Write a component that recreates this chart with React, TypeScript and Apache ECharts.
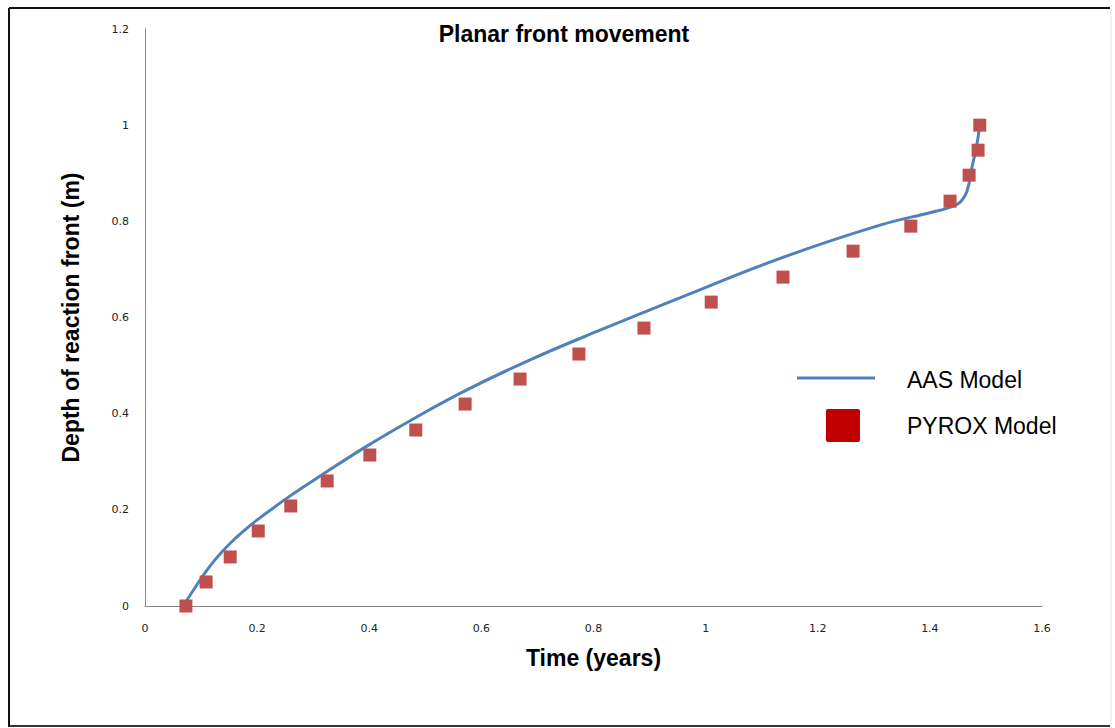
import React, { useEffect, useRef } from "react";
import * as echarts from "echarts";

const aasTime = [0.068, 0.083, 0.107, 0.127, 0.149, 0.174, 0.199, 0.259, 0.324, 0.395, 0.48, 0.568, 0.687, 0.806, 0.954, 1.133, 1.311, 1.40, 1.43, 1.452, 1.466, 1.475, 1.483, 1.489];
const aasDepth = [0, 0.027, 0.069, 0.099, 0.127, 0.154, 0.178, 0.229, 0.279, 0.332, 0.39, 0.446, 0.512, 0.571, 0.641, 0.723, 0.792, 0.818, 0.827, 0.838, 0.862, 0.912, 0.955, 0.998];

const pyroxTime = [0.073, 0.109, 0.152, 0.202, 0.260, 0.325, 0.401, 0.483, 0.571, 0.669, 0.774, 0.890, 1.010, 1.138, 1.263, 1.366, 1.436, 1.470, 1.486, 1.489];
const pyroxDepth = [0, 0.05, 0.102, 0.156, 0.208, 0.260, 0.314, 0.366, 0.420, 0.472, 0.524, 0.578, 0.632, 0.684, 0.738, 0.790, 0.842, 0.896, 0.948, 1.0];

const seriesNames = ["AAS Model", "PYROX Model"];
const chartTitle = "Planar front movement";
const xTitle = "Time (years)";
const yTitle = "Depth of reaction front (m)";

export default function App() {
  const ref = useRef<HTMLDivElement>(null);
  useEffect(() => {
    if (!ref.current) return;
    const chart = echarts.init(ref.current, null, { renderer: "svg" });
    const aas = aasTime.map((t, i) => [t, aasDepth[i]]);
    const pyrox = pyroxTime.map((t, i) => [t, pyroxDepth[i]]);
    const tickFont = { fontFamily: "DejaVu Sans", fontSize: 11, color: "#222" };
    chart.setOption({
      animation: false,
      backgroundColor: "#fff",
      grid: { left: 145, right: 73, top: 29, bottom: 122 },
      xAxis: {
        type: "value",
        min: 0,
        max: 1.6,
        interval: 0.2,
        axisLine: { show: true, lineStyle: { color: "#868686", width: 1 } },
        axisTick: { show: false },
        splitLine: { show: false },
        axisLabel: { ...tickFont, margin: 17, formatter: (v: number) => String(Math.round(v * 10) / 10) },
        name: xTitle,
        nameLocation: "middle",
        nameGap: 40,
        nameTextStyle: { fontFamily: "Liberation Sans", fontWeight: "bold", fontSize: 23, color: "#000" },
      },
      yAxis: {
        type: "value",
        min: 0,
        max: 1.2,
        interval: 0.2,
        axisLine: { show: true, lineStyle: { color: "#868686", width: 1 } },
        axisTick: { show: false },
        splitLine: { show: false },
        axisLabel: { ...tickFont, margin: 16, formatter: (v: number) => String(Math.round(v * 10) / 10) },
        name: yTitle,
        nameLocation: "middle",
        nameGap: 63,
        nameRotate: 90,
        nameTextStyle: { fontFamily: "Liberation Sans", fontWeight: "bold", fontSize: 23, color: "#000" },
      },
      series: [
        {
          name: seriesNames[0],
          type: "line",
          data: aas,
          smooth: 0.4,
          showSymbol: false,
          lineStyle: { color: "#4F81BD", width: 3 },
          z: 2,
        },
        {
          name: seriesNames[1],
          type: "scatter",
          data: pyrox,
          symbol: "rect",
          symbolSize: 13,
          itemStyle: { color: "#C0504D", opacity: 1 },
          z: 3,
        },
      ],
      graphic: [
        { type: "line", shape: { x1: 9, y1: 8, x2: 1110, y2: 8 }, style: { stroke: "#111", lineWidth: 2 } },
        { type: "line", shape: { x1: 9, y1: 8, x2: 9, y2: 727 }, style: { stroke: "#111", lineWidth: 2 } },
        { type: "line", shape: { x1: 9, y1: 726, x2: 1110, y2: 726 }, style: { stroke: "#333", lineWidth: 2 } },
        { type: "line", shape: { x1: 1111, y1: 8, x2: 1111, y2: 727 }, style: { stroke: "#e4e4e4", lineWidth: 1 } },
        {
          type: "text",
          x: 564,
          y: 34,
          style: { text: chartTitle, fontFamily: "Liberation Sans", fontWeight: "bold", fontSize: 23, fill: "#000", align: "center", verticalAlign: "middle" },
        },
        { type: "line", shape: { x1: 797, y1: 378, x2: 875, y2: 378 }, style: { stroke: "#4F81BD", lineWidth: 3 } },
        { type: "rect", shape: { x: 826, y: 409, width: 34, height: 33, r: 2 }, style: { fill: "#C00000" } },
        {
          type: "text",
          x: 907,
          y: 380,
          style: { text: seriesNames[0], fontFamily: "Liberation Sans", fontSize: 23, fill: "#000", verticalAlign: "middle" },
        },
        {
          type: "text",
          x: 907,
          y: 426,
          style: { text: seriesNames[1], fontFamily: "Liberation Sans", fontSize: 23, fill: "#000", verticalAlign: "middle" },
        },
      ],
    });
    return () => chart.dispose();
  }, []);
  return <div ref={ref} style={{ position: "fixed", left: 0, top: 0, width: 1115, height: 728 }} />;
}
